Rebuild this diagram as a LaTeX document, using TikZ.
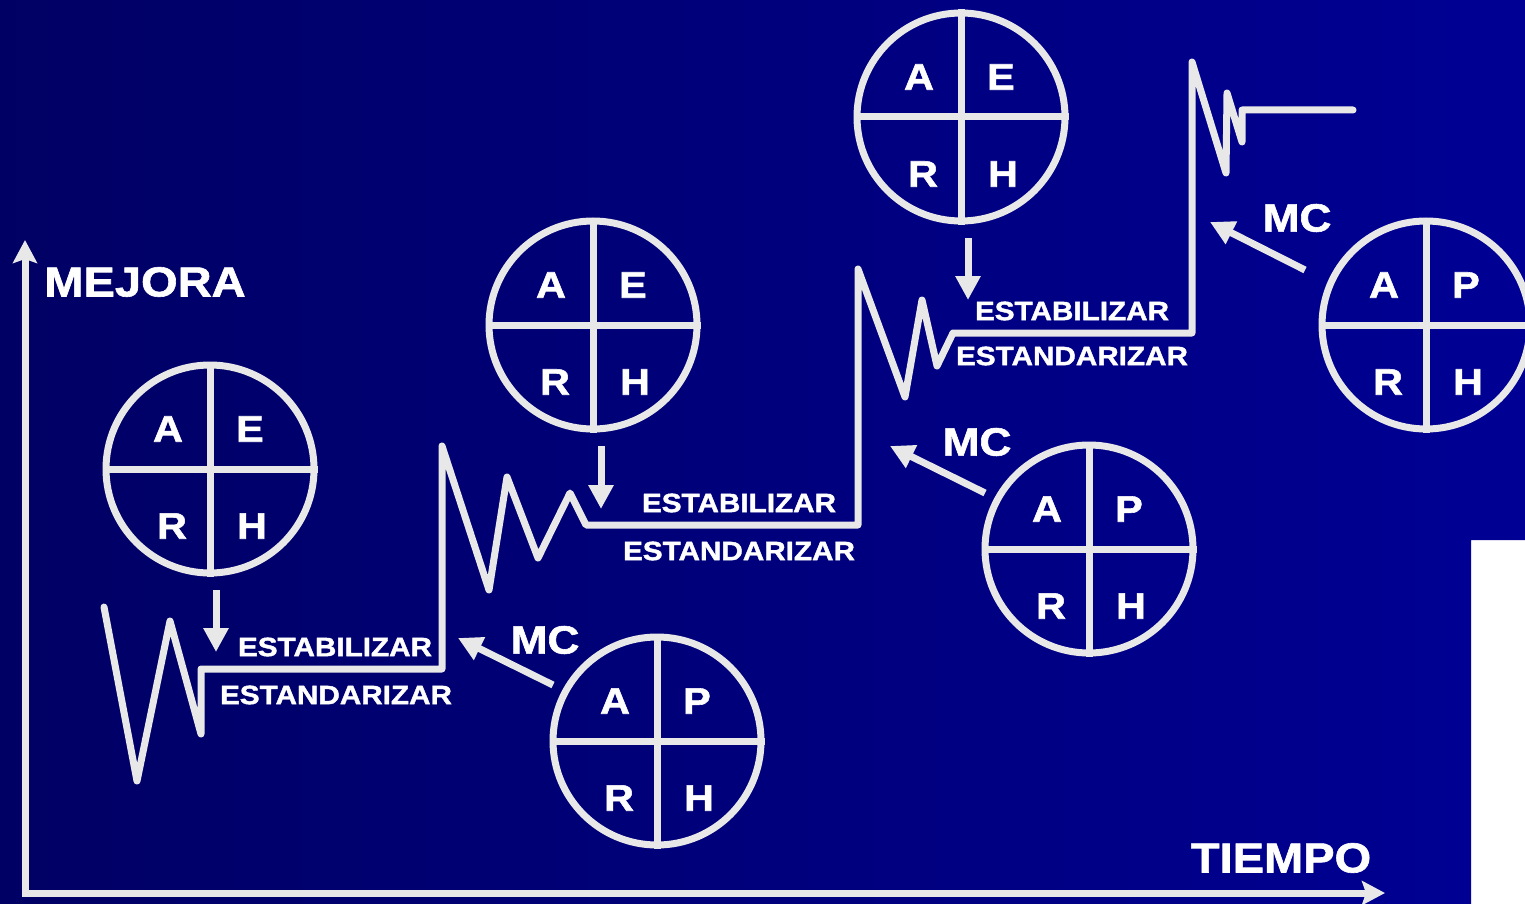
\documentclass[tikz,border=0pt]{standalone}
\usepackage{fontspec}
\newfontfamily\slidefont{Liberation Sans}[UprightFont={* Bold}, FakeStretch=1.12, FakeBold=1.5]
\usetikzlibrary{arrows.meta}
\definecolor{chalk}{RGB}{232,232,232}
\definecolor{deepnavy}{RGB}{0,0,100}
\definecolor{brightnavy}{RGB}{0,0,148}

\tikzset{
  wheel/.style = {circle, draw=chalk, line width=7pt, minimum size=208pt, inner sep=0pt},
  spoke/.style = {draw=chalk, line width=7pt},
  trace/.style = {draw=chalk, line width=7pt, line join=round, line cap=round},
  pointer/.style = {draw=chalk, line width=7pt, -{Triangle[length=24pt,width=24pt]}},
  axis/.style = {draw=chalk, line width=7pt, {Stealth[length=23pt,width=24pt,inset=4pt]}-{Stealth[length=23pt,width=24pt,inset=4pt]}},
  letter/.style = {text=white, inner sep=0pt, font=\slidefont\fontsize{37pt}{37pt}\selectfont},
  title/.style = {text=white, inner sep=0pt, font=\slidefont\fontsize{42pt}{42pt}\selectfont},
  mclabel/.style = {text=white, inner sep=0pt, font=\slidefont\fontsize{39.5pt}{39.5pt}\selectfont},
  steplabel/.style = {text=white, inner sep=0pt, font=\slidefont\fontsize{26.5pt}{26.5pt}\selectfont}
}

% one wheel: name, x, y, letter of the upper right quarter
\newcommand{\pdcawheel}[4]{%
  \node[wheel] (#1) at (#2,#3) {};
  \draw[spoke] (#1.north) -- (#1.south);
  \draw[spoke] (#1.west) -- (#1.east);
  \node[letter] (#1-a) at (#2-42,#3-40) {A};
  \node[letter] (#1-b) at (#2+40,#3-40) {#4};
  \node[letter] (#1-r) at (#2-38,#3+57) {R};
  \node[letter] (#1-h) at (#2+42,#3+57) {H};
}

\begin{document}
\begin{tikzpicture}[x=1pt, y=-1pt]
  \useasboundingbox (0,0) rectangle (1525,904);
  \fill[white] (0,0) rectangle (1525,904);
  \shade[left color=deepnavy, right color=brightnavy]
    (0,0) -- (1525,0) -- (1525,540) -- (1471,540) -- (1471,904) -- (0,904) -- cycle;

  % axes
  \coordinate (origin) at (25,893);
  \coordinate (ytip) at (25,240);
  \coordinate (xtip) at (1385,893);
  \draw[axis] (ytip) -- (origin) -- (xtip);
  \node[title] (mejora) at (145,282) {MEJORA};
  \node[title] (tiempo) at (1281,858) {TIEMPO};

  % improvement steps
  \draw[trace] (104,607) -- (137,781) -- (170,621) -- (201,734) -- (201,669)
    -- (442,669) -- (442,446) -- (489,590) -- (507,477) -- (538,558)
    -- (570,493) -- (586,525) -- (858,525) -- (858,269) -- (905,397)
    -- (922,300) -- (937,366) -- (953,333) -- (1192,333) -- (1192,62)
    -- (1226,173) -- (1227,93) -- (1242,142) -- (1242,110) -- (1353,110);

  % wheels
  \pdcawheel{ae1}{210}{469}{E}
  \pdcawheel{ae2}{593}{325}{E}
  \pdcawheel{ae3}{961}{117}{E}
  \pdcawheel{ap1}{657}{741}{P}
  \pdcawheel{ap2}{1089}{549}{P}
  \pdcawheel{ap3}{1426}{325}{P}

  % stabilize
  \coordinate (down1) at (216,590);
  \coordinate (land1) at (216,652);
  \coordinate (down2) at (601,446);
  \coordinate (land2) at (601,509);
  \coordinate (down3) at (968,238);
  \coordinate (land3) at (968,300);
  \draw[pointer] (down1) -- (land1);
  \draw[pointer] (down2) -- (land2);
  \draw[pointer] (down3) -- (land3);
  \node[steplabel] (estab1) at (335,647) {ESTABILIZAR};
  \node[steplabel] (estand1) at (336,695) {ESTANDARIZAR};
  \node[steplabel] (estab2) at (739,503) {ESTABILIZAR};
  \node[steplabel] (estand2) at (739,551) {ESTANDARIZAR};
  \node[steplabel] (estab3) at (1072,311) {ESTABILIZAR};
  \node[steplabel] (estand3) at (1072,356) {ESTANDARIZAR};

  % improve
  \coordinate (push1) at (553,685);
  \coordinate (jump1) at (458,638);
  \coordinate (push2) at (985,493);
  \coordinate (jump2) at (890,446);
  \coordinate (push3) at (1305,270);
  \coordinate (jump3) at (1210,222);
  \draw[pointer] (push1) -- (jump1);
  \draw[pointer] (push2) -- (jump2);
  \draw[pointer] (push3) -- (jump3);
  \node[mclabel] (mc1) at (545,640) {MC};
  \node[mclabel] (mc2) at (977,442) {MC};
  \node[mclabel] (mc3) at (1297,218) {MC};
\end{tikzpicture}
\end{document}
